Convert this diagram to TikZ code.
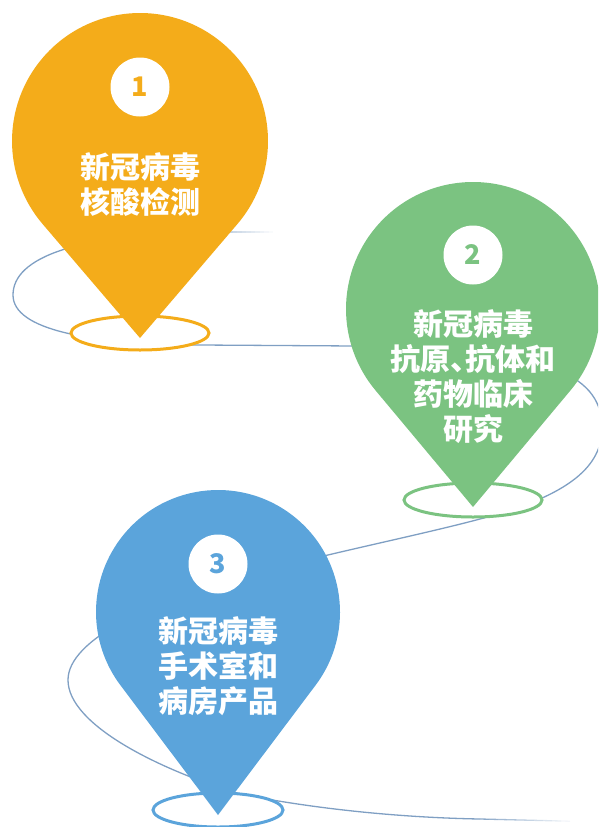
\documentclass[tikz,border=0pt]{standalone}
\usepackage{fontspec}
\newfontfamily\cjk{Noto Sans CJK SC}
\definecolor{pinorange}{HTML}{F4AC1A}
\definecolor{pingreen}{HTML}{7BC381}
\definecolor{pinblue}{HTML}{5BA4DB}
\definecolor{routeblue}{HTML}{7F9FC3}
\newcommand\droppin[5]{%
  \pgfmathsetmacro\pinang{acos(#3/(#4-#2))}%
  \fill[#5] (#1,#2) ++({90-\pinang}:#3) arc[start angle={90-\pinang}, end angle={-270+\pinang}, radius=#3] -- (#1,#4) -- cycle;%
}
\tikzset{
  route/.style={draw=routeblue, line width=1.3pt},
  base/.style={line width=3pt, fill=white},
  numcirc/.style={circle, fill=white, minimum size=59pt, inner sep=0pt,
    font=\cjk\bfseries\fontsize{27}{27}\selectfont},
  pintext/.style={text=white, align=center, inner sep=0pt,
    font=\cjk\bfseries\fontsize{30}{35}\selectfont},
}
\begin{document}
\begin{tikzpicture}[x=1pt,y=-1pt]
\useasboundingbox (0,0) rectangle (598,827);
\clip (0,0) rectangle (598,827);
% route line
\coordinate (r0) at (228,232);
\coordinate (r1) at (13,295);
\coordinate (r2) at (200,345);
\coordinate (r3) at (355,346);
\coordinate (r4) at (602,428);
\coordinate (r5) at (480,519);
\coordinate (r6) at (260,572);
\coordinate (r7) at (68,680);
\coordinate (r8) at (240,794);
\coordinate (r9) at (480,819);
\draw[route] (r0) .. controls (75,232) and (13,258) .. (r1)
  .. controls (13,330) and (90,344) .. (r2) -- (r3)
  .. controls (560,346) and (602,380) .. (r4)
  .. controls (602,465) and (572,495) .. (r5)
  .. controls (420,535) and (330,553) .. (r6)
  .. controls (150,600) and (68,640) .. (r7)
  .. controls (68,725) and (160,770) .. (r8)
  .. controls (330,812) and (420,818) .. (r9);
\foreach \i in {0,...,9}{
  \pgfmathsetmacro\shade{90-9*\i}
  \draw[routeblue!\shade!white, line width=1.3pt] ({480+9*\i},{819+0.22*\i}) -- ({489+9*\i},{819+0.22*(\i+1)});
  \pgfmathsetmacro\shadeb{45-4.5*\i}
  \draw[routeblue!\shadeb!white, line width=1.3pt] ({228+4.5*\i},232) -- ({232.5+4.5*\i},232);
}
% bases
\draw[base, draw=pinorange] (140,333) ellipse [x radius=69, y radius=17];
\draw[base, draw=pingreen] (473,500) ellipse [x radius=69, y radius=17];
\draw[base, draw=pinblue] (218,810) ellipse [x radius=65, y radius=17];
% pins
\droppin{140}{141}{128}{338}{pinorange}
\droppin{473}{309}{127}{507}{pingreen}
\droppin{218}{612}{122}{815}{pinblue}
% numbers
\node[numcirc, text=pinorange] (n1) at (140,87) {1};
\node[numcirc, text=pingreen] (n2) at (473,255) {2};
\node[numcirc, text=pinblue] (n3) at (218,564) {3};
% texts
\node[pintext] (t1) at (140,184.5) {新冠病毒\\核酸检测};
\node[pintext] (t2) at (473,377) {新冠病毒\\抗原、\kern-0.5em抗体和\\药物临床\\研究};
\node[pintext] (t3) at (218,666) {新冠病毒\\手术室和\\病房产品};
\end{tikzpicture}
\end{document}
